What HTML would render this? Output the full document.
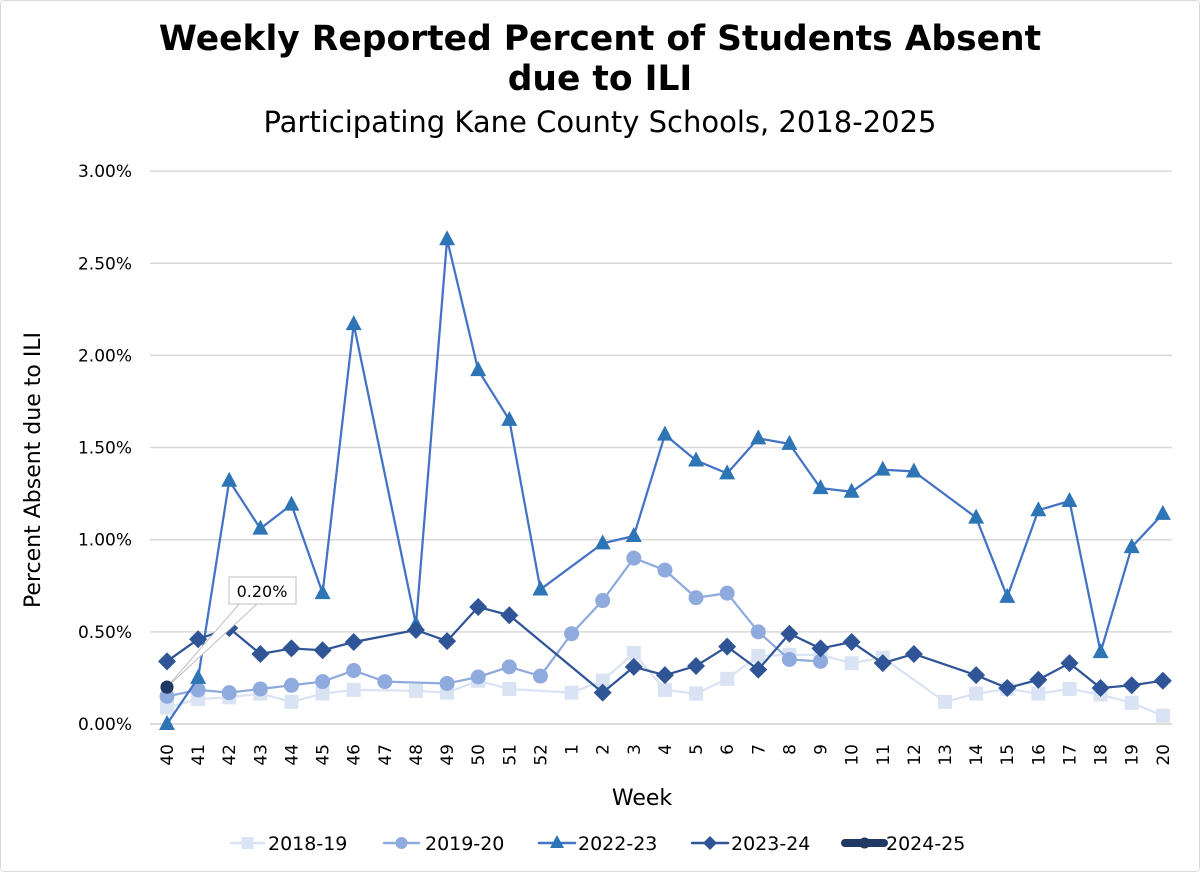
<!DOCTYPE html>
<html><head><meta charset="utf-8"><style>
html,body{margin:0;padding:0;background:#fff;}
svg{display:block;font-family:"DejaVu Sans","Liberation Sans",sans-serif;}
</style></head><body>
<svg id="chart" width="1200" height="872" viewBox="0 0 1200 872">
<rect x="0.5" y="0.5" width="1199" height="871" rx="4" fill="#fff" stroke="#d9d9d9"/>
<text x="600" y="50" text-anchor="middle" font-size="34.5" font-weight="bold" fill="#000">Weekly Reported Percent of Students Absent</text>
<text x="600" y="90" text-anchor="middle" font-size="34.5" font-weight="bold" fill="#000">due to ILI</text>
<text x="600" y="132" text-anchor="middle" font-size="29" fill="#000">Participating Kane County Schools, 2018-2025</text>
<g id="grid"></g><g id="axes"></g><g id="series"></g><g id="legend"></g>
<text x="642" y="805" text-anchor="middle" font-size="22" fill="#000">Week</text>
<text transform="translate(40,470) rotate(-90)" text-anchor="middle" font-size="22" fill="#000">Percent Absent due to ILI</text>
</svg>
<script>
const weeks=["40","41","42","43","44","45","46","47","48","49","50","51","52","1","2","3","4","5","6","7","8","9","10","11","12","13","14","15","16","17","18","19","20"];
const yTicks=[0,0.5,1,1.5,2,2.5,3];
const s1819=[0.09,0.135,0.145,0.165,0.12,0.165,0.185,null,0.18,0.17,0.235,0.19,null,0.17,0.235,0.385,0.185,0.165,0.245,0.37,0.375,0.375,0.33,0.36,null,0.12,0.165,0.19,0.165,0.19,0.16,0.115,0.045];
const s1920=[0.15,0.185,0.17,0.19,0.21,0.23,0.29,0.23,null,0.22,0.255,0.31,0.26,0.49,0.67,0.90,0.835,0.685,0.71,0.50,0.35,0.34,null,null,null,null,null,null,null,null,null,null,null];
const s2223=[0.00,0.25,1.32,1.06,1.19,0.71,2.17,null,0.54,2.63,1.92,1.65,0.73,null,0.98,1.02,1.57,1.43,1.36,1.55,1.52,1.28,1.26,1.38,1.37,null,1.12,0.69,1.16,1.21,0.39,0.96,1.14];
const s2324=[0.34,0.46,0.52,0.38,0.41,0.40,0.445,null,0.51,0.45,0.635,0.59,null,null,0.17,0.31,0.265,0.315,0.42,0.295,0.49,0.41,0.445,0.33,0.38,null,0.265,0.195,0.24,0.33,0.195,0.21,0.235];
const s2425=[0.20];
const seriesNames=["2018-19","2019-20","2022-23","2023-24","2024-25"];
const NS="http://www.w3.org/2000/svg";
function el(t,a,p){const e=document.createElementNS(NS,t);for(const k in a)e.setAttribute(k,a[k]);p.appendChild(e);return e;}
const X=i=>167+i*31.12;
const Y=v=>724-v*184.3;
const grid=document.getElementById('grid'),axes=document.getElementById('axes'),ser=document.getElementById('series'),leg=document.getElementById('legend');
yTicks.forEach((t,i)=>{
 const l=el('line',{x1:150,x2:1172,y1:Y(t),y2:Y(t),stroke:t===0?'#d0d0d0':'#d9d9d9','stroke-width':1.5},grid);
 
 
 const tx=el('text',{x:132,y:Y(t)+6,'text-anchor':'end','font-size':17,fill:'#000'},axes);
 tx.textContent=t.toFixed(2)+'%';
 
 
});
weeks.forEach((w,i)=>{
 const tx=el('text',{transform:`translate(${X(i)+6},744) rotate(-90)`,'text-anchor':'end','font-size':17,fill:'#000'},axes);
 tx.textContent=w;
 
 
});
function marker(type,x,y,c,g){
 let m;
 if(type==='sq')m=el('rect',{x:x-7,y:y-7,width:14,height:14,fill:c},g);
 else if(type==='ci')m=el('circle',{cx:x,cy:y,r:7.5,fill:c},g);
 else if(type==='tr')m=el('polygon',{points:`${x},${y-9} ${x+8},${y+6} ${x-8},${y+6}`,fill:c},g);
 else if(type==='di')m=el('polygon',{points:`${x},${y-9} ${x+9},${y} ${x},${y+9} ${x-9},${y}`,fill:c},g);
 else m=el('circle',{cx:x,cy:y,r:6.5,fill:c},g);
 return m;
}
const defs=[[s1819,'#dae3f3','#dae3f3','sq'],[s1920,'#8faadc','#8faadc','ci'],[s2223,'#4472c4','#2e75b6','tr'],[s2324,'#2f5597','#2f5597','di'],[s2425,'#203864','#203864','dot']];
defs.forEach(([d,lc,mc,mt],si)=>{
 const g=el('g',{},ser);
 
 
 const pts=[];d.forEach((v,i)=>{if(v!==null)pts.push([X(i),Y(v)]);});
 if(pts.length>1){
  const p=el('polyline',{points:pts.map(p=>p.join(',')).join(' '),fill:'none',stroke:lc,'stroke-width':2.25,'stroke-linejoin':'round'},g);
  
  
 }
 pts.forEach(p=>{const m=marker(mt,p[0],p[1],mc,g);
  
  });
});
const ag=el('g',{},ser);


el('polygon',{points:`${X(0)},${Y(s2425[0])} 240,603 258,603`,fill:'#fff',stroke:'#bfbfbf','stroke-width':1},ag);
el('rect',{x:229,y:577,width:67,height:27,fill:'#fff',stroke:'#bfbfbf','stroke-width':1},ag);
const at=el('text',{x:262,y:597,'text-anchor':'middle','font-size':16,fill:'#000'},ag);
at.textContent=s2425[0].toFixed(2)+'%';
const dm=marker('dot',X(0),Y(s2425[0]),'#203864',ser);


const lx=[[231,264,268],[384,419,425],[539,575,578],[692,728,731],[845,884,886]];
defs.forEach(([d,lc,mc,mt],i)=>{
 const g=el('g',{},leg);
 
 
 const [a,b,t]=lx[i];
 el('line',{x1:a,x2:b,y1:843,y2:843,stroke:lc,'stroke-width':mt==='dot'?8:2.5,'stroke-linecap':'round'},g);
 const mm=(a+b)/2;
 if(mt==='sq')el('rect',{x:mm-6,y:837,width:12,height:12,fill:mc},g);
 else if(mt==='ci')el('circle',{cx:mm,cy:843,r:6,fill:mc},g);
 else if(mt==='tr')el('polygon',{points:`${mm},835 ${mm+7},848 ${mm-7},848`,fill:mc},g);
 else if(mt==='di')el('polygon',{points:`${mm},836 ${mm+7},843 ${mm},850 ${mm-7},843`,fill:mc},g);
 else el('circle',{cx:mm,cy:843,r:5.5,fill:mc},g);
 const tx=el('text',{x:t,y:850,'font-size':19,fill:'#000'},g);
 tx.textContent=seriesNames[i];
});
</script>
</body></html>
